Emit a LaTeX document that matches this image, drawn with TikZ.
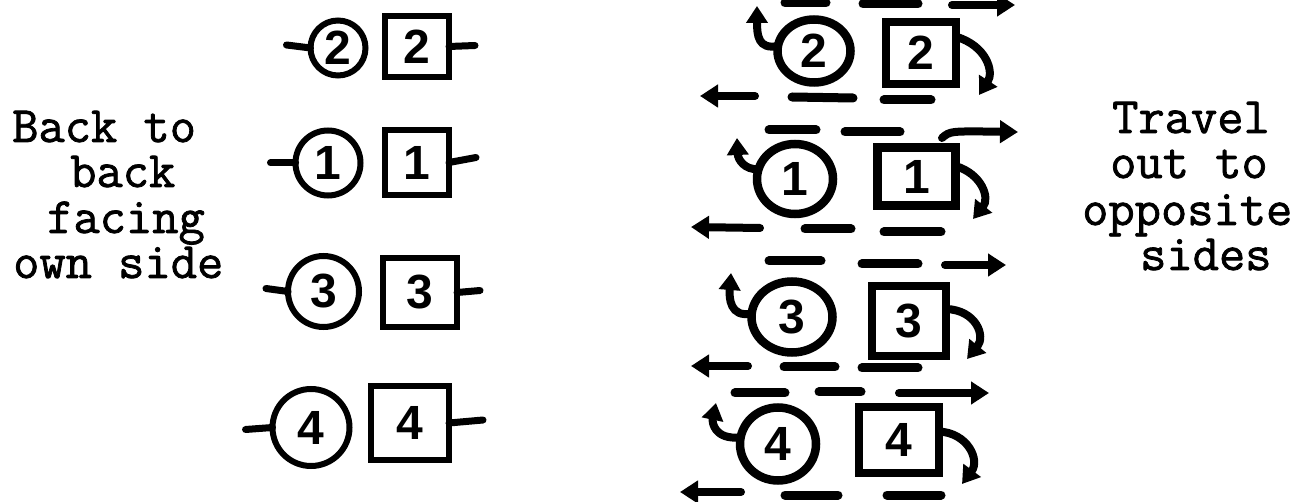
\documentclass[tikz,border=0pt]{standalone}
\usepackage{fontspec}
\newfontfamily\digitfont{Liberation Sans}
\newfontfamily\typefont{Latin Modern Mono}[FakeBold=1.5]
\usetikzlibrary{arrows.meta,shapes.geometric}
\begin{document}
\begin{tikzpicture}[x=1pt,y=-1pt,
  txt/.style={font=\typefont\fontsize{51}{45}\selectfont, anchor=base west, inner sep=0pt, text height=30pt, text depth=9pt},
  dig/.style={font=\digitfont\bfseries\fontsize{48}{48}\selectfont, inner sep=0pt, outer sep=0pt},
  lcirc/.style={dig, draw, circle, line width=6pt},
  lsq/.style={dig, draw, rectangle, line width=6pt},
  rcirc/.style={dig, draw, ellipse, line width=8.5pt},
  rsq/.style={dig, draw, rectangle, line width=8.5pt},
  stub/.style={line width=7pt, line cap=round},
  dashline/.style={line width=9pt, line cap=round},
  arr/.style={line width=8pt, line cap=round, -{Triangle[length=18pt,width=22pt]}},
  hookarr/.style={line width=8pt, line cap=round, -{Triangle[length=17pt,width=21pt]}}
]
\useasboundingbox (0,0) rectangle (1312,502);
\fill[white] (0,0) rectangle (1312,502);

% ---- left texts
\node[txt] (t1) at (12,142) {Back to};
\node[txt] (t2) at (70,187) {back};
\node[txt] (t3) at (47,233) {facing};
\node[txt] (t4) at (13,278) {own side};

% ---- right texts
\node[txt] (u1) at (1112,133) {Travel};
\node[txt] (u2) at (1110,178) {out to};
\node[txt] (u3) at (1082,225) {opposite};
\node[txt] (u4) at (1140,270) {sides};

% ---- left column
\node[lcirc, minimum size=55pt] (a2) at (338,48) {2};
\node[lsq, minimum width=64pt, minimum height=61pt] (b2) at (417,46.5) {2};
\node[lcirc, minimum size=65pt] (a1) at (328,163) {1};
\node[lsq, minimum width=64pt, minimum height=65pt] (b1) at (417,162.5) {1};
\node[lcirc, minimum size=71pt] (a3) at (323.5,291.5) {3};
\node[lsq, minimum width=74pt, minimum height=69pt] (b3) at (420,292.5) {3};
\node[lcirc, minimum size=77pt] (a4) at (311,427.5) {4};
\node[lsq, minimum width=78pt, minimum height=74pt] (b4) at (410,423) {4};

\draw[stub] (a2.west) -- ++(-24,-3);
\draw[stub] (b2.east) -- ++(26,-1);
\draw[stub] (a1.west) -- ++(-25,0);
\draw[stub] (b1.east) -- ++(27,-5);
\draw[stub] (a3.west) -- ++(-22,-3);
\draw[stub] (b3.east) -- ++(23,-2);
\draw[stub] (a4.west) -- ++(-27,2);
\draw[stub] (b4.east) -- ++(34,-3);

% ---- right column
\node[rcirc, minimum width=73pt, minimum height=63pt] (c2) at (814,51) {2};
\node[rsq, minimum width=70pt, minimum height=62pt] (d2) at (921,53) {2};
\node[rcirc, minimum width=76pt, minimum height=70pt] (c1) at (795,179) {1};
\node[rsq, minimum width=78pt, minimum height=58pt] (d1) at (916.5,176.5) {1};
\node[rcirc, minimum width=81pt, minimum height=71pt] (c3) at (792,317) {3};
\node[rsq, minimum width=74pt, minimum height=70pt] (d3) at (909,321) {3};
\node[rcirc, minimum width=76pt, minimum height=73pt] (c4) at (778,444) {4};
\node[rsq, minimum width=80pt, minimum height=66pt] (d4) at (899,440) {4};

% hooks on circles
\draw[hookarr] (c2.172) .. controls (758,50) and (757,35) .. (757,6);
\draw[hookarr] (c1.165) .. controls (745,170) and (738,160) .. (737,138);
\draw[hookarr] (c3.175) .. controls (730,318) and (729,298) .. (731,273);
\draw[hookarr] (c4.170) .. controls (714,440) and (712,422) .. (716,403);
% hooks on squares
\draw[hookarr] (d2.25) .. controls (987,46) and (994,72) .. (979,95);
\draw[hookarr] (d1.15) .. controls (982,174) and (990,198) .. (973,219);
\draw[hookarr] (d3.18) .. controls (976,310) and (986,336) .. (967,359);
\draw[hookarr] (d4.12) .. controls (968,433) and (980,460) .. (962,484);

% ---- dashes and travel arrows
% above row 2 (cut at top)
\draw[dashline] (785,3) -- (826,3);
\draw[dashline] (863,4) -- (918,4);
\draw[arr] (952,5) -- (1015,5);
% below row 2
\draw[arr] (755,96) -- (700,96);
\draw[dashline] (792,97) -- (853,98);
\draw[dashline] (884,100) -- (931,100);
% above row 1
\draw[dashline] (769,130) -- (816,130);
\draw[dashline] (845,132) -- (900,132);
\draw[arr] (942,138) .. controls (950,131) .. (1018,132);
% below row 1
\draw[arr] (760,228) -- (691,227);
\draw[dashline] (805,229) -- (851,229);
\draw[dashline] (884,232) -- (941,232);
% above row 3
\draw[dashline] (769,261) -- (821,261);
\draw[dashline] (862,264) -- (918,264);
\draw[arr] (945,265) -- (1006,265);
% below row 3
\draw[arr] (748,366) -- (691,366);
\draw[dashline] (784,367) -- (835,367);
\draw[dashline] (862,368) -- (918,368);
% above row 4
\draw[dashline] (735,393) -- (785,393);
\draw[dashline] (819,392) -- (861,392);
\draw[arr] (899,393) -- (989,393);
% below row 4
\draw[arr] (741,492) -- (680,492);
\draw[dashline] (785,495) -- (838,495);
\draw[dashline] (887,495) -- (941,495);
\end{tikzpicture}
\end{document}
